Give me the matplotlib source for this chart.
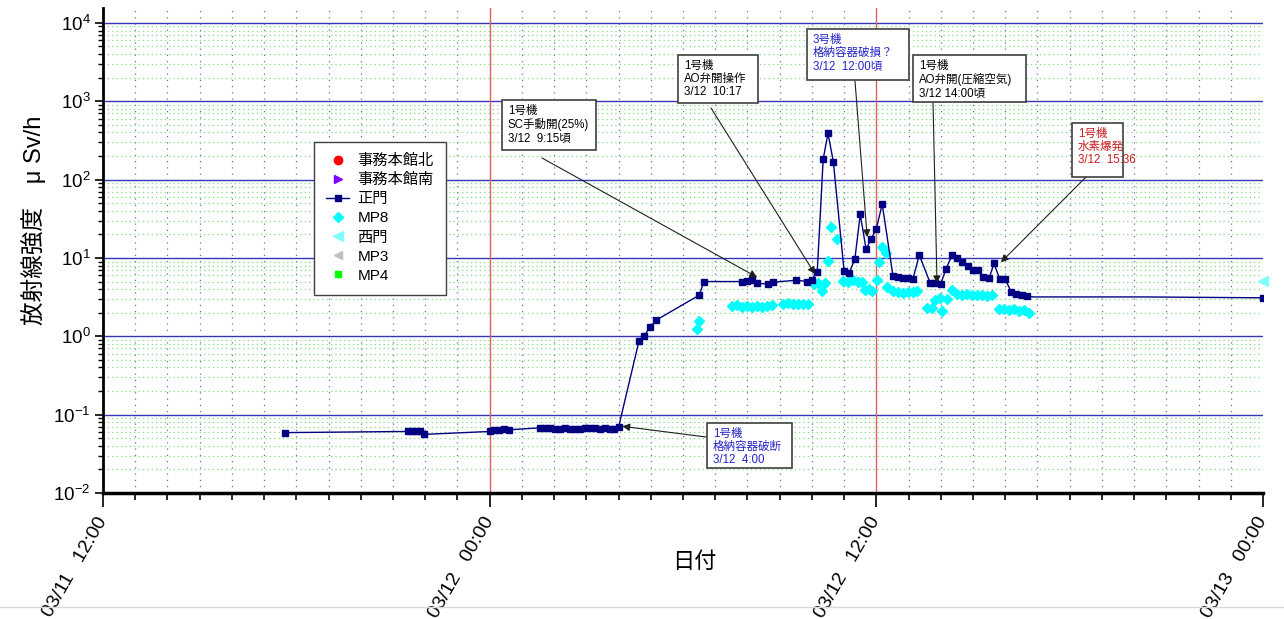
import matplotlib
matplotlib.use('Agg')
import matplotlib.pyplot as plt
import matplotlib.dates as mdates
import matplotlib.ticker as mticker
from matplotlib.lines import Line2D
from matplotlib.patches import Rectangle
import pandas as pd

plt.rcParams['font.family'] = ['Liberation Sans', 'Noto Sans CJK JP', 'DejaVu Sans']

# ---------------- data ----------------
seimon_time = [
    "03/11 17:39", "03/11 21:28", "03/11 21:35", "03/11 21:43", "03/11 21:50", "03/11 21:58",
    "03/12 00:00", "03/12 00:08", "03/12 00:17", "03/12 00:27", "03/12 00:36",
    "03/12 01:34", "03/12 01:43", "03/12 01:52", "03/12 02:02", "03/12 02:11", "03/12 02:20",
    "03/12 02:30", "03/12 02:39", "03/12 02:48", "03/12 02:58", "03/12 03:07", "03/12 03:16",
    "03/12 03:26", "03/12 03:35", "03/12 03:44", "03/12 03:52", "03/12 04:00",
    "03/12 04:38", "03/12 04:47", "03/12 04:59", "03/12 05:10", "03/12 06:30", "03/12 06:39",
    "03/12 07:50", "03/12 08:00", "03/12 08:09", "03/12 08:18", "03/12 08:38", "03/12 08:48",
    "03/12 09:31", "03/12 09:51", "03/12 10:00", "03/12 10:10", "03/12 10:21", "03/12 10:30",
    "03/12 10:40", "03/12 11:00", "03/12 11:09", "03/12 11:20", "03/12 11:30", "03/12 11:41",
    "03/12 11:50", "03/12 12:00", "03/12 12:11", "03/12 12:31", "03/12 12:40", "03/12 12:50",
    "03/12 12:59", "03/12 13:08", "03/12 13:20", "03/12 13:40", "03/12 13:49", "03/12 14:00",
    "03/12 14:10", "03/12 14:21", "03/12 14:30", "03/12 14:40", "03/12 14:51", "03/12 15:00",
    "03/12 15:10", "03/12 15:19", "03/12 15:30", "03/12 15:39", "03/12 15:50", "03/12 16:00",
    "03/12 16:11", "03/12 16:20", "03/12 16:31", "03/12 16:41", "03/12 16:52", "03/12 20:20",
    "03/13 00:00",
]
seimon_value = [
    0.059, 0.061, 0.061, 0.062, 0.061, 0.056,
    0.061, 0.063, 0.064, 0.065, 0.064,
    0.068, 0.067, 0.068, 0.066, 0.066, 0.067,
    0.065, 0.066, 0.066, 0.067, 0.068, 0.067,
    0.066, 0.067, 0.065, 0.066, 0.069,
    0.87, 1.0, 1.31, 1.61, 3.34, 5.0,
    5.0, 5.1, 5.2, 4.8, 4.6, 4.9,
    5.2, 5.0, 5.3, 6.7, 182, 390,
    168, 6.8, 6.4, 9.6, 36, 12.9,
    17.3, 23.7, 48.5, 5.9, 5.7, 5.6,
    5.5, 5.35, 10.9, 4.85, 4.85, 4.7,
    7.3, 10.9, 10.1, 9.0, 7.9, 7.0,
    7.0, 5.7, 5.5, 8.5, 5.35, 5.35,
    3.7, 3.5, 3.37, 3.27, 3.18, 3.18,
    3.1,
]
seimon_no_marker = ["03/12 16:52", "03/12 20:20"]

mp8_time = [
    "03/12 06:26", "03/12 06:30",
    "03/12 07:31", "03/12 07:41", "03/12 07:50", "03/12 07:59", "03/12 08:09", "03/12 08:18",
    "03/12 08:27", "03/12 08:37", "03/12 08:46",
    "03/12 09:06", "03/12 09:16", "03/12 09:25", "03/12 09:34", "03/12 09:44", "03/12 09:53",
    "03/12 10:04", "03/12 10:12", "03/12 10:19", "03/12 10:25", "03/12 10:30", "03/12 10:36",
    "03/12 10:46", "03/12 10:58", "03/12 11:07", "03/12 11:17", "03/12 11:26", "03/12 11:33",
    "03/12 11:39", "03/12 11:46", "03/12 11:52", "03/12 12:01", "03/12 12:05", "03/12 12:11",
    "03/12 12:18", "03/12 12:20", "03/12 12:31", "03/12 12:40", "03/12 12:50", "03/12 12:59",
    "03/12 13:08", "03/12 13:16", "03/12 13:34", "03/12 13:44", "03/12 13:49", "03/12 13:59",
    "03/12 14:02", "03/12 14:12", "03/12 14:21", "03/12 14:30", "03/12 14:40", "03/12 14:49",
    "03/12 14:58", "03/12 15:08", "03/12 15:17", "03/12 15:26", "03/12 15:35", "03/12 15:49",
    "03/12 15:58", "03/12 16:07", "03/12 16:16", "03/12 16:26", "03/12 16:35", "03/12 16:44",
]
mp8_value = [
    1.23, 1.57,
    2.45, 2.5, 2.4, 2.45, 2.4, 2.45,
    2.4, 2.45, 2.5,
    2.6, 2.65, 2.6, 2.6, 2.6, 2.6,
    4.6, 4.85, 3.8, 4.85, 9.2, 24.7,
    17.3, 5.1, 5.0, 5.2, 5.0, 4.9,
    3.9, 4.0, 3.8, 5.2, 8.9, 13.8,
    11.7, 4.2, 3.8, 3.7, 3.6, 3.7,
    3.7, 3.8, 2.3, 2.3, 2.9, 3.1,
    2.1, 3.0, 3.87, 3.5, 3.4, 3.45,
    3.4, 3.35, 3.4, 3.3, 3.35, 2.2,
    2.2, 2.15, 2.2, 2.1, 2.15, 2.0,
]

nishimon_time = ["03/13 00:00"]
nishimon_value = [5.1]

series_labels = ["事務本館北", "事務本館南", "正門", "MP8", "西門", "MP3", "MP4"]

# annotations: text, colour, arrow target (time, value)
ann_texts = ["1号機\nSC手動開(25%)\n3/12  9:15頃",
             "1号機\nAO弁開操作\n3/12  10:17",
             "3号機\n格納容器破損？\n3/12  12:00頃",
             "1号機\nAO弁開(圧縮空気)\n3/12 14:00頃",
             "1号機\n水素爆発\n3/12  15:36",
             "1号機\n格納容器破断\n3/12  4:00"]
ann_colors = ["black", "black", "#2323c8", "black", "#c81e1e", "#2323c8"]
ann_target_time = ["03/12 08:18", "03/12 10:06", "03/12 11:43", "03/12 13:53", "03/12 15:52", "03/12 04:07"]
ann_target_value = [5.67, 6.2, 18.4, 4.75, 8.8, 0.071]

x_start, x_end = "03/11 12:00", "03/13 00:00"
red_lines = ["03/12 00:00", "03/12 12:00"]


def to_dt(lst):
    return pd.to_datetime(["2011/" + s for s in lst], format="%Y/%m/%d %H:%M")


# ---------------- layout (pixels) ----------------
W, H = 1284, 619
def fx(px): return px / W
def fy(py): return 1 - py / H

fig = plt.figure(figsize=(W / 100, H / 100), dpi=100)
ax = fig.add_axes([fx(103), fy(493), (1263 - 103) / W, (493 - 8) / H])

st = to_dt(seimon_time)
mk = [i for i, s in enumerate(seimon_time) if s not in seimon_no_marker]

ax.plot([], [], 'o', color='red', ms=6, label=series_labels[0])
ax.plot([], [], '>', color='#8000ff', ms=6, label=series_labels[1])
ax.plot(st, seimon_value, '-s', color='#000080', lw=1, ms=5, markevery=mk,
        label=series_labels[2], zorder=5)
ax.plot(to_dt(mp8_time), mp8_value, 'D', color='#00ffff', ms=5, linestyle='none',
        label=series_labels[3], zorder=4)
ax.plot(to_dt(nishimon_time), nishimon_value, '<', color='#80ffff', ms=7, linestyle='none',
        label=series_labels[4], zorder=4, clip_on=False)
ax.plot([], [], '<', color='#c0c0c0', ms=6, linestyle='none', label=series_labels[5])
ax.plot([], [], 's', color='#00ff00', ms=5, linestyle='none', label=series_labels[6])

ax.set_yscale('log')
ax.set_ylim(1e-2, 1.55e4)
xs = to_dt([x_start, x_end])
ax.set_xlim(xs[0], xs[1])

for t in to_dt(red_lines):
    ax.axvline(t, color='#e06060', lw=1, zorder=2)

# grids
ax.yaxis.set_major_locator(mticker.LogLocator(base=10, numticks=10))
ax.yaxis.set_minor_locator(mticker.LogLocator(base=10, subs=range(2, 10), numticks=100))
ax.yaxis.set_minor_formatter(mticker.NullFormatter())
ax.grid(True, which='major', axis='y', color='#3535b5', lw=1, zorder=1)
ax.grid(True, which='minor', axis='y', color='#80dd80', lw=0.9, linestyle=(0, (1, 2.5)), zorder=1)
ax.xaxis.set_major_locator(mdates.HourLocator(byhour=[0, 12]))
ax.xaxis.set_minor_locator(mdates.HourLocator())
ax.xaxis.set_major_formatter(mdates.DateFormatter('%m/%d   %H:%M'))
ax.grid(True, which='minor', axis='x', color='#6a6ab0', lw=0.9, linestyle=(0, (1, 4)), zorder=1)
ax.set_axisbelow(True)

for s in ['top', 'right']:
    ax.spines[s].set_visible(False)
ax.spines['left'].set_linewidth(2)
ax.spines['bottom'].set_linewidth(2.5)

ax.tick_params(axis='y', which='major', direction='out', length=6, width=1.2, labelsize=13.5, pad=3)
ax.tick_params(axis='y', which='minor', direction='out', length=3.5, width=1)
ax.tick_params(axis='x', which='major', direction='out', length=10, width=1.2, labelsize=14, pad=8)
ax.tick_params(axis='x', which='minor', direction='out', length=5, width=1.2)
for lab in ax.get_xticklabels():
    lab.set_rotation(60)
    lab.set_rotation_mode('anchor')
    lab.set_ha('right')
    lab.set_va('center')

fig.text(fx(34), fy(220), "放射線強度　μ Sv/h", rotation=90, ha='center', va='center', fontsize=17)
fig.text(fx(694), fy(562), "日付", ha='center', va='center', fontsize=16)

leg = ax.legend(loc='upper left', bbox_to_anchor=(fx(314), fy(142)), bbox_transform=fig.transFigure,
                borderaxespad=0, fancybox=False, framealpha=1, edgecolor='#404040',
                fontsize=11, labelspacing=0.33, handlelength=1.5, handletextpad=0.55,
                borderpad=0.8)
leg.get_frame().set_linewidth(1)
leg.set_zorder(10)

# annotation boxes (pixel layout): left, top, right, bottom, arrow start
boxes = [(502, 100, 596, 150, 542, 158),
         (678, 55, 758, 103, 711, 108),
         (807, 29, 909, 80, 855, 81),
         (913, 55, 1026, 102, 933, 102),
         (1072, 123, 1123, 177, 1086, 177),
         (707, 423, 792, 468, 706, 437)]
tt = to_dt(ann_target_time)
for (l, t, r, b, ax0, ay0), txt, col, tx, tv in zip(boxes, ann_texts, ann_colors, tt, ann_target_value):
    ax.annotate('', xy=(tx, tv), xycoords='data', xytext=(fx(ax0), fy(ay0)),
                textcoords=fig.transFigure,
                arrowprops=dict(arrowstyle='-|>', color='#202020', lw=0.8, mutation_scale=11,
                                shrinkA=0, shrinkB=0), zorder=8)
    fig.add_artist(Rectangle((fx(l), fy(b)), fx(r) - fx(l), fy(t) - fy(b), transform=fig.transFigure,
                             facecolor='white', edgecolor='#404040', lw=1.2, zorder=9))
    fig.text(fx(l + 6), fy(t + 5), txt, ha='left', va='top', fontsize=8.3, color=col,
             linespacing=1.12, zorder=10)

fig.add_artist(Line2D([0, 1], [fy(607), fy(607)], color='#d8d8d8', lw=1, transform=fig.transFigure))

fig.savefig('out.png', dpi=100)
